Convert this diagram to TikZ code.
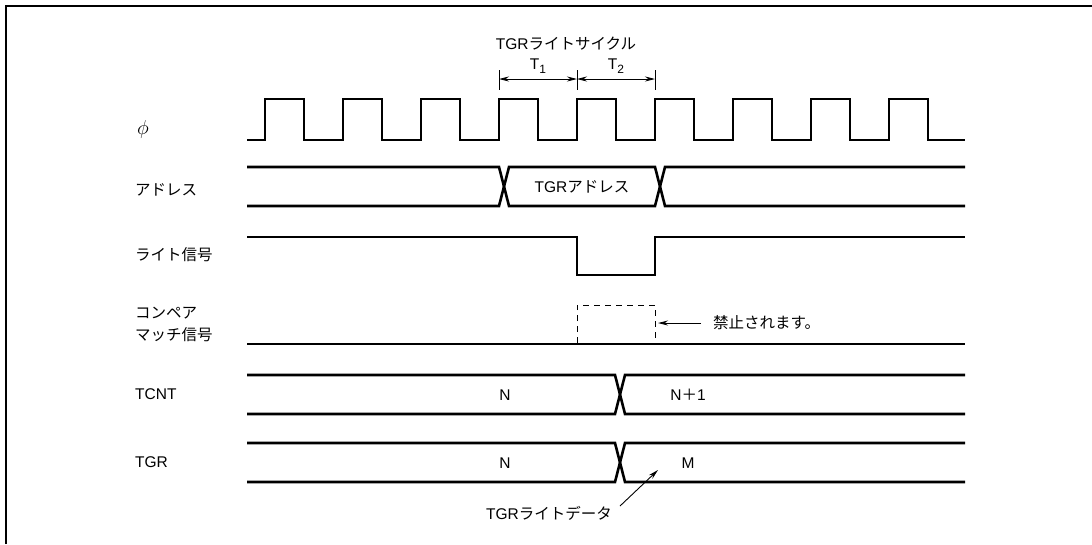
\documentclass[tikz,border=0pt]{standalone}
\usepackage{fontspec}
\setmainfont{Liberation Sans}
\newfontfamily\jp{Noto Sans CJK JP}
\usetikzlibrary{arrows.meta}
\begin{document}
\begin{tikzpicture}[x=1pt,y=-1pt,
  sig/.style={line width=2.6pt,line join=miter},
  thinl/.style={line width=0.9pt},
  dashbox/.style={line width=1pt,dash pattern=on 6pt off 5pt},
  lbl/.style={font=\fontsize{15.5}{18}\selectfont,inner sep=0pt},
  tipa/.style={-{Stealth[length=10pt,width=5pt]},line width=0.9pt},
  tipb/.style={{Stealth[length=10pt,width=5pt]}-{Stealth[length=10pt,width=5pt]},line width=0.9pt},
  frame/.style={line width=2pt}]
\useasboundingbox (0,0) rectangle (1092,544);
\draw[frame] (6,544) -- (6,6) -- (1092,6);

% title and T1/T2
\node[lbl] (title) at (566,44) {TGR{\jp ライトサイクル}};
\coordinate (k1) at (499,79);
\coordinate (k2) at (577,79);
\coordinate (k3) at (655,79);
\draw[thinl] (499,70) -- (499,90);
\draw[thinl] (577,70) -- (577,90);
\draw[thinl] (655,70) -- (655,90);
\draw[tipb] (k1) -- (k2);
\draw[tipb] (k2) -- (k3);
\node[lbl] (t1) at (538,66) {T\raisebox{-0.3em}{\fontsize{12}{12}\selectfont 1}};
\node[lbl] (t2) at (616,66) {T\raisebox{-0.3em}{\fontsize{12}{12}\selectfont 2}};

% left labels
\node[lbl,anchor=west] (lphi) at (137,129) {\scalebox{1.4}{$\phi$}};
\node[lbl,anchor=west] (ladr) at (135,190) {\jp アドレス};
\node[lbl,anchor=west] (lwr) at (135,255) {\jp ライト信号};
\node[lbl,anchor=west] (lcm1) at (135,313) {\jp コンペア};
\node[lbl,anchor=west] (lcm2) at (135,335) {\jp マッチ信号};
\node[lbl,anchor=west] (ltc) at (135,394) {TCNT};
\node[lbl,anchor=west] (ltg) at (135,462) {TGR};

% clock
\draw[sig] (247,140) foreach \i in {0,...,8} {
  -- (265+78*\i,140) -- (265+78*\i,99) -- (304+78*\i,99) -- (304+78*\i,140)} -- (965,140);

% address
\draw[sig] (247,167) -- (499,167) -- (509,206) -- (655,206) -- (665,167) -- (965,167);
\draw[sig] (247,206) -- (499,206) -- (509,167) -- (655,167) -- (665,206) -- (965,206);
\node[lbl] (adr) at (582,187) {TGR{\jp アドレス}};

% write signal
\draw[sig] (247,237) -- (577,237) -- (577,275) -- (655,275) -- (655,237) -- (965,237);

% compare match
\draw[sig] (247,344) -- (965,344);
\draw[dashbox] (577,343) -- (577,305) -- (655,305) -- (655,343);
\node[lbl,anchor=west] (inh) at (713,323) {\jp 禁止されます。};
\coordinate (inhtip) at (658,323);
\coordinate (inhtail) at (701,323);
\draw[tipa] (inhtail) -- (inhtip);

% TCNT
\draw[sig] (247,375) -- (615,375) -- (625,414) -- (965,414);
\draw[sig] (247,414) -- (615,414) -- (625,375) -- (965,375);
\node[lbl] (n1) at (505,395) {N};
\node[lbl] (n2) at (688,395) {N{\jp ＋}1};

% TGR
\draw[sig] (247,443) -- (615,443) -- (625,482) -- (965,482);
\draw[sig] (247,482) -- (615,482) -- (625,443) -- (965,443);
\node[lbl] (n3) at (505,463) {N};
\node[lbl] (m) at (688,463) {M};

\node[lbl,anchor=east] (wd) at (612,513) {TGR{\jp ライトデータ}};
\coordinate (wdtail) at (620,506);
\coordinate (wdtip) at (658,470);
\draw[tipa] (wdtail) -- (wdtip);
\end{tikzpicture}
\end{document}
